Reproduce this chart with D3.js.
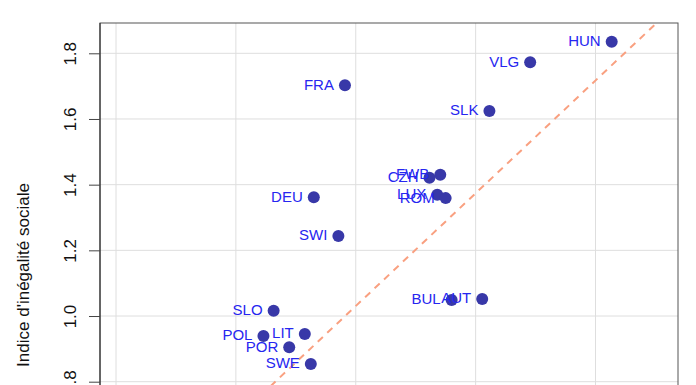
<!DOCTYPE html>
<html>
<head>
<meta charset="utf-8">
<script src="https://cdn.jsdelivr.net/npm/d3@7"></script>
<style>
  body { margin: 0; background: #fff; }
  svg { display: block; font-family: "Liberation Sans", Arial, sans-serif; }
</style>
</head>
<body>
<svg id="chart" width="696" height="385"></svg>
<script>
// country codes and the two indices (x axis is below the visible area)
const countries = ["HUN", "VLG", "SLK", "FRA", "FWB", "CZH", "LUX", "ROM", "DEU", "SWI", "BUL", "AUT", "SLO", "POL", "LIT", "POR", "SWE"];
const xValues = [1.627, 1.491, 1.423, 1.182, 1.341, 1.323, 1.336, 1.350, 1.130, 1.171, 1.360, 1.411, 1.063, 1.046, 1.115, 1.089, 1.125];
const yValues = [1.835, 1.773, 1.624, 1.703, 1.430, 1.421, 1.369, 1.359, 1.362, 1.244, 1.049, 1.052, 1.016, 0.939, 0.945, 0.905, 0.854];
const xTicks = [0.8, 1.0, 1.2, 1.4, 1.6];
const yTicks = [0.8, 1.0, 1.2, 1.4, 1.6, 1.8];
const fitLine = [-1.03, 1.717]; // intercept, slope
const yTitle = "Indice d'inégalité sociale";

const svg = d3.select("#chart");

const pLeft = 100, pRight = 678, pTop = 23, pBottom = 526;

const x = d3.scaleLinear().domain([0.8, 1.6]).range([116, 595.5]);
const y = d3.scaleLinear().domain([0.8, 1.8]).range([381.7, 53.3]);

// grid
svg.append("g")
    .selectAll("line")
    .data(xTicks)
    .join("line")
    .attr("x1", d => x(d)).attr("x2", d => x(d))
    .attr("y1", pTop).attr("y2", pBottom)
    .style("stroke", "#dedede").style("stroke-width", 1);

svg.append("g")
    .selectAll("line")
    .data(yTicks)
    .join("line")
    .attr("x1", pLeft).attr("x2", pRight)
    .attr("y1", d => y(d)).attr("y2", d => y(d))
    .style("stroke", "#dedede").style("stroke-width", 1);

// box
svg.append("rect")
    .attr("x", pLeft).attr("y", pTop)
    .attr("width", pRight - pLeft).attr("height", pBottom - pTop)
    .style("fill", "none").style("stroke", "#555").style("stroke-width", 1);

// fitted dashed line, clipped to the plot region
svg.append("clipPath").attr("id", "clip")
    .append("rect")
    .attr("x", pLeft).attr("y", pTop)
    .attr("width", pRight - pLeft).attr("height", pBottom - pTop);

const xs = [x.invert(pLeft), x.invert(pRight)];
svg.append("line")
    .attr("clip-path", "url(#clip)")
    .attr("x1", x(xs[0])).attr("y1", y(fitLine[0] + fitLine[1] * xs[0]))
    .attr("x2", x(xs[1])).attr("y2", y(fitLine[0] + fitLine[1] * xs[1]))
    .style("stroke", "#f9a080").style("stroke-width", 2)
    .style("stroke-dasharray", "7,6");

// y axis
const yAxis = svg.append("g")
    .attr("transform", "translate(" + pLeft + ",0)")
    .call(d3.axisLeft(y).tickValues(yTicks).tickFormat(d3.format(".1f")).tickSize(11).tickSizeOuter(0));
yAxis.select(".domain").attr("d", "M0," + pTop + "V" + pBottom).style("stroke", "#222");
yAxis.selectAll(".tick line").style("stroke", "#444");
yAxis.selectAll(".tick text")
    .attr("x", null).attr("dy", null)
    .attr("transform", "translate(-24,0) rotate(-90)")
    .attr("text-anchor", "middle")
    .style("font-size", "17px").style("fill", "#111")
    .style("font-family", "'Liberation Sans', Arial, sans-serif");

svg.append("text")
    .text(yTitle)
    .attr("transform", "translate(29,275) rotate(-90)")
    .attr("text-anchor", "middle")
    .style("font-size", "17px").style("fill", "#111");

// points
svg.append("g")
    .selectAll("circle")
    .data(countries)
    .join("circle")
    .attr("cx", (d, i) => x(xValues[i]))
    .attr("cy", (d, i) => y(yValues[i]))
    .attr("r", 6)
    .style("fill", "#3838a8");

// labels
svg.append("g")
    .selectAll("text")
    .data(countries)
    .join("text")
    .text(d => d)
    .attr("x", (d, i) => x(xValues[i]) - 11)
    .attr("y", (d, i) => y(yValues[i]) - 1)
    .attr("dy", "0.36em")
    .attr("text-anchor", "end")
    .style("font-size", "15px")
    .style("fill", "#2626f0");
</script>
</body>
</html>
